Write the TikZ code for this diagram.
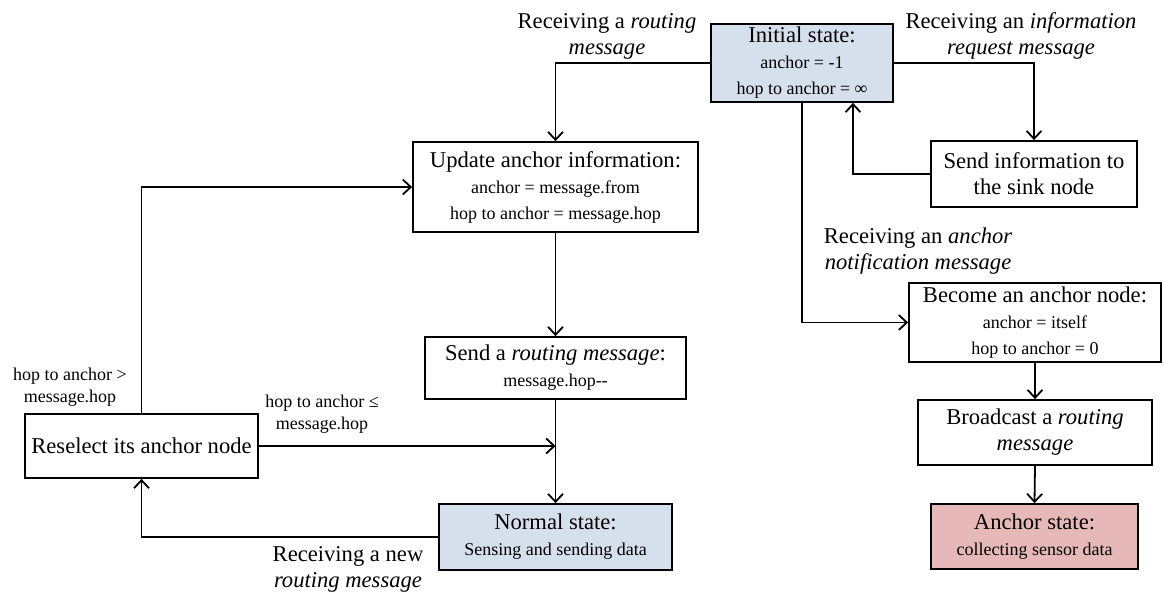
\documentclass[tikz,border=0pt]{standalone}
\usepackage{fontspec}
\setmainfont{Liberation Serif}
\usetikzlibrary{arrows.meta}
\newcommand{\smalltxt}{\fontsize{9}{11}\selectfont}
\definecolor{statblue}{HTML}{D6E0EC}
\definecolor{statred}{HTML}{E6B9B8}
\tikzset{
    box/.style={draw, line width=0.9pt, align=center, inner sep=1pt,
        font=\fontsize{11.3}{13}\selectfont},
    lab/.style={align=center, inner sep=0pt, font=\fontsize{11.3}{13}\selectfont},
    smlab/.style={align=center, inner sep=0pt, font=\smalltxt},
}
\begin{document}
\begin{tikzpicture}[>={Straight Barb[length=4pt,width=7.5pt]}, x=0.5pt, y=-0.5pt, line width=0.9pt]
    \useasboundingbox (0,0) rectangle (1164,594);
    % states and actions
    \node[box, fill=statblue, minimum width=91pt, minimum height=39pt] (init) at (802,63)
        {Initial state:\\ \smalltxt anchor = -1\\ \smalltxt hop to anchor = ∞};
    \node[box, minimum width=142.5pt, minimum height=45pt] (upd) at (555.5,187)
        {Update anchor information:\\ \smalltxt anchor = message.from\\ \smalltxt hop to anchor = message.hop};
    \node[box, minimum width=130.5pt, minimum height=31pt] (sendr) at (555.5,368)
        {Send a \textit{routing message}:\\ \smalltxt message.hop-{}-};
    \node[box, minimum width=116.5pt, minimum height=32pt] (rese) at (141.5,446)
        {Reselect its anchor node};
    \node[box, fill=statblue, minimum width=116.5pt, minimum height=33pt] (norm) at (555.5,537)
        {Normal state:\\ \smalltxt Sensing and sending data};
    \node[box, minimum width=103pt, minimum height=33pt] (info) at (1034,174)
        {Send information to\\ the sink node};
    \node[box, minimum width=126pt, minimum height=39.5pt] (become) at (1035,322.5)
        {Become an anchor node:\\ \smalltxt anchor = itself\\ \smalltxt hop to anchor = 0};
    \node[box, minimum width=117pt, minimum height=32.5pt] (broad) at (1035,432.5)
        {Broadcast a \textit{routing}\\ \textit{message}};
    \node[box, fill=statred, minimum width=103.5pt, minimum height=32.5pt] (anch) at (1034.5,536.5)
        {Anchor state:\\ \smalltxt collecting sensor data};
    % transition labels
    \node[lab] (lrout) at (607,36) {Receiving a \textit{routing}\\ \textit{message}};
    \node[lab] (lreq) at (1021,36) {Receiving an \textit{information}\\ \textit{request message}};
    \node[lab, anchor=west] (lnote) at (823,251) {Receiving an \textit{anchor}\\ \textit{notification message}};
    \node[smlab] (lgt) at (70,387) {hop to anchor >\\ message.hop};
    \node[smlab] (lle) at (322,414) {hop to anchor ≤\\ message.hop};
    \node[lab] (lnew) at (348,569) {Receiving a new\\ \textit{routing message}};
    % transitions
    \draw[->] (init.west) -| (upd.north);
    \draw[->] (init.east) -| (info.north);
    \draw[->] (info.west) -| ([xshift=25.5pt]init.south);
    \draw[->] (init.south) |- (become.west);
    \draw[->] (upd.south) -- (sendr.north);
    \draw[->] (sendr.south) -- (norm.north);
    \draw[->] (rese.east) -- (rese.east -| norm.north);
    \draw[->] (rese.north) |- (upd.west);
    \draw[->] (norm.west) -| (rese.south);
    \draw[->] (become.south) -- (broad.north);
    \draw[->] (broad.south) -- (anch.north);
\end{tikzpicture}
\end{document}
